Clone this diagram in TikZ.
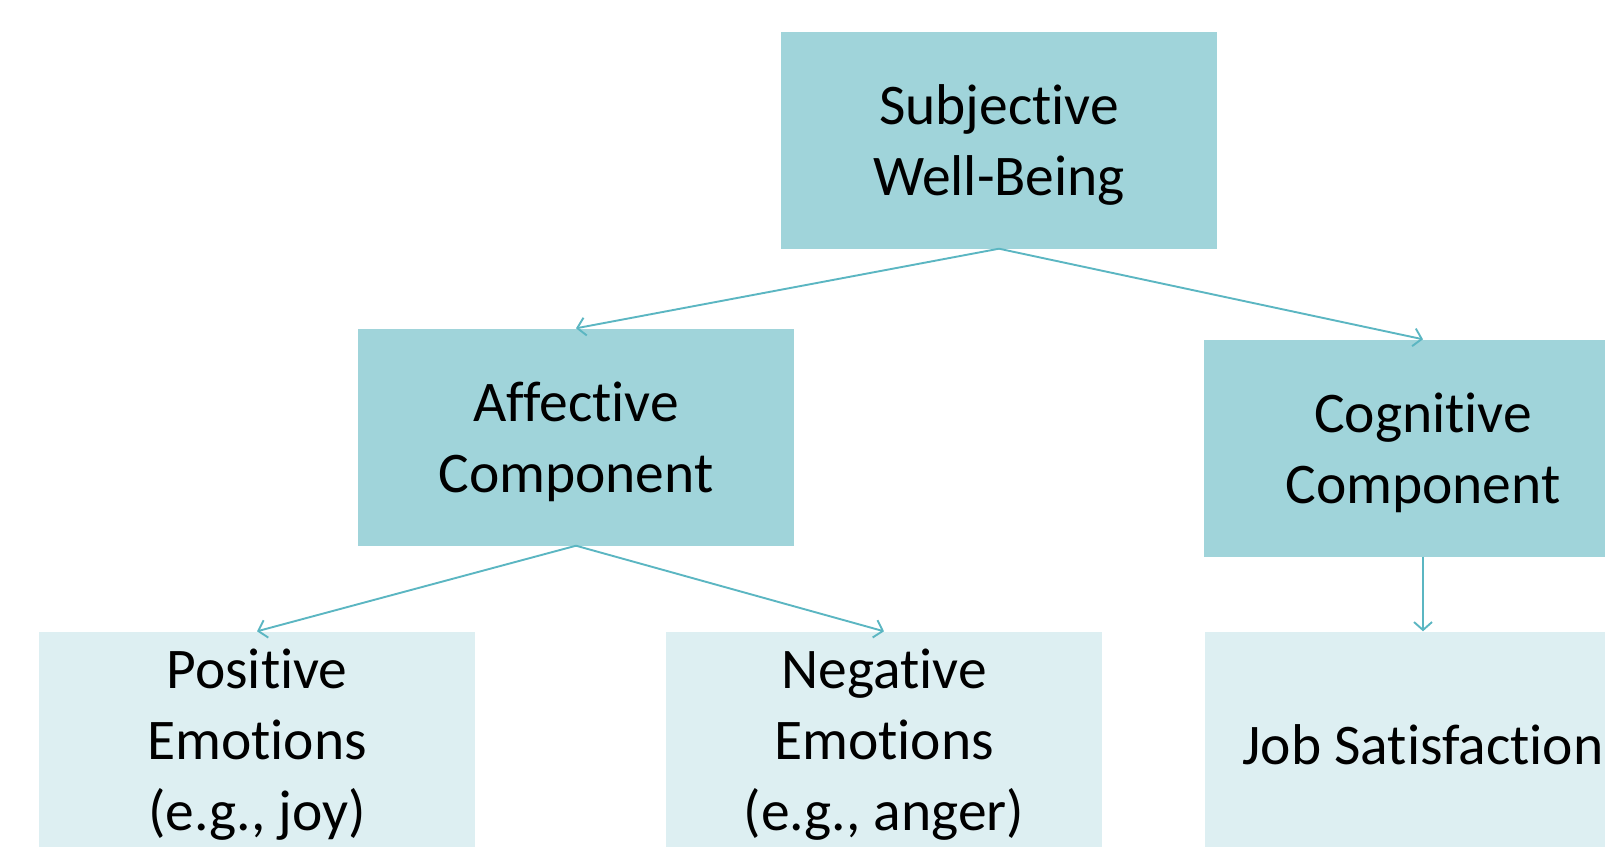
\documentclass[tikz,border=0pt]{standalone}
\usepackage{fontspec}
\setmainfont[Ligatures=NoCommon]{Carlito}
\usetikzlibrary{arrows.meta}

\definecolor{boxdark}{HTML}{A0D4DA}
\definecolor{boxlight}{HTML}{DDEFF2}
\definecolor{linkteal}{HTML}{5BB6C2}

\tikzset{
  box/.style={rectangle, inner sep=0pt,
    minimum width=436pt, minimum height=217pt},
  upper/.style={box, fill=boxdark},
  lower/.style={box, fill=boxlight},
  boxtext/.style={inner sep=0pt, align=center, yshift=-5pt,
    font=\fontsize{57.5}{71}\selectfont, text=black},
  link/.style={draw=linkteal, line width=1.9pt,
    -{Straight Barb[length=8pt,width=18pt,line width=1.9pt]}}
}

\begin{document}
\begin{tikzpicture}[x=1pt, y=-1pt]
  \useasboundingbox (0,0) rectangle (1605,846);
  \clip (0,0) rectangle (1605,846);

  % top level
  \node[upper] (swb) at (999,140) {};
  \node[boxtext] (swbtext) at (swb.center) {Subjective\\Well-Being};

  % components
  \node[upper] (aff) at (576,437) {};
  \node[boxtext] (afftext) at (aff.center) {Affective\\Component};
  \node[upper, minimum width=438pt] (cog) at (1423,448) {};
  \node[boxtext] (cogtext) at (cog.center) {Cognitive\\Component};

  % facets
  \node[lower] (pos) at (257,740) {};
  \node[boxtext] (postext) at (pos.center) {Positive\\Emotions\\(e.g., joy)};
  \node[lower] (neg) at (884,740) {};
  \node[boxtext] (negtext) at (neg.center) {Negative\\Emotions\\(e.g., anger)};
  \node[lower] (job) at (1423,740) {};
  \node[boxtext] (jobtext) at (job.center) {Job Satisfaction};

  % links
  \draw[link] (swb.south) -- (aff.north);
  \draw[link] (swb.south) -- (cog.north);
  \draw[link] (aff.south) -- (pos.north);
  \draw[link] (aff.south) -- (neg.north);
  \draw[link] (cog.south) -- (job.north);
\end{tikzpicture}
\end{document}
